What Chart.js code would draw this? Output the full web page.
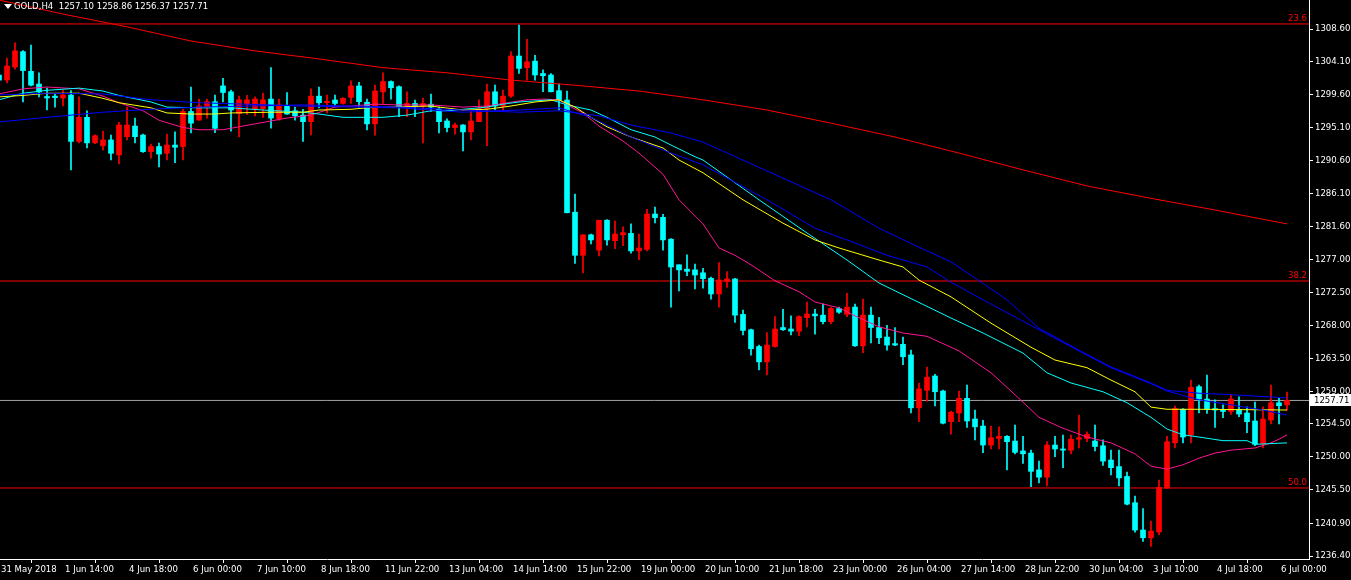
<!DOCTYPE html>
<html>
<head>
<meta charset="utf-8">
<title>GOLD,H4</title>
<script src="https://cdn.jsdelivr.net/npm/chart.js@4.4.1/dist/chart.umd.min.js"></script>
<style>
  html, body { margin: 0; padding: 0; background: #000; overflow: hidden; }
  canvas { display: block; }
</style>
</head>
<body>
<canvas id="chart" width="1351" height="580"></canvas>
<script>
// candles, H4, oldest first
const opens = [
  1302.3, 1301.61, 1303.4, 1305.5, 1302.8, 1301.06, 1299.35, 1299.4, 1299.15, 1299.55,
  1293.2, 1296.5, 1293.0, 1292.6, 1293.4, 1291.34, 1293.85, 1295.3, 1294.07, 1291.8,
  1292.5, 1291.57, 1292.7, 1292.5, 1297.3, 1296.13, 1297.9, 1298.64, 1300.8, 1300.0,
  1297.0, 1298.3, 1297.6, 1297.7, 1299.0, 1296.3, 1298.05, 1297.4, 1296.8, 1295.9,
  1299.4, 1298.5, 1298.87, 1298.4, 1299.24, 1300.8, 1298.56, 1295.6, 1300.0, 1301.4,
  1300.7, 1298.05, 1298.4, 1298.05, 1298.3, 1297.6, 1296.0, 1295.1, 1295.45, 1294.5,
  1295.9, 1297.7, 1300.0, 1298.05, 1299.4, 1304.9, 1303.3, 1304.2, 1302.5, 1302.3,
  1300.15, 1298.87, 1283.5, 1277.6, 1280.4, 1278.3, 1282.4, 1279.6, 1280.4, 1280.6,
  1278.2, 1278.4, 1283.25, 1282.8, 1279.8, 1276.3, 1275.7, 1275.6, 1275.2, 1274.45,
  1272.3, 1274.0, 1274.35, 1269.5, 1267.4, 1265.1, 1263.0, 1265.1, 1267.7, 1267.5,
  1267.2, 1269.05, 1269.55, 1269.4, 1268.5, 1270.3, 1269.5, 1270.5, 1265.2, 1269.4,
  1267.7, 1266.4, 1265.5, 1265.4, 1263.95, 1256.7, 1259.1, 1261.06, 1259.0, 1254.8,
  1256.0, 1258.0, 1255.17, 1254.2, 1251.6, 1252.5, 1252.8, 1252.15, 1250.8, 1250.5,
  1248.2, 1247.2, 1251.6, 1251.06, 1250.9, 1252.4, 1252.5, 1252.15, 1251.5, 1249.55,
  1248.65, 1247.3, 1243.7, 1239.96, 1238.9, 1239.7, 1245.7, 1251.9, 1256.5, 1252.97,
  1259.6, 1257.9, 1256.6, 1256.5, 1256.2, 1256.5, 1256.0, 1254.9, 1251.75, 1255.03,
  1257.4, 1257.10
];
const highs = [
  1302.6, 1304.6, 1306.7, 1305.65, 1306.4, 1302.6, 1300.5, 1299.7, 1300.2, 1300.15,
  1299.3, 1297.4, 1294.1, 1294.6, 1294.07, 1295.8, 1297.9, 1296.4, 1294.2, 1292.84,
  1292.98, 1294.2, 1294.5, 1297.6, 1300.65, 1299.0, 1299.0, 1299.56, 1301.85, 1300.24,
  1299.4, 1299.5, 1299.3, 1299.8, 1303.3, 1299.0, 1299.9, 1297.9, 1297.6, 1300.4,
  1300.65, 1299.56, 1299.56, 1299.2, 1301.5, 1301.3, 1299.0, 1300.9, 1302.6, 1301.5,
  1300.8, 1300.0, 1298.87, 1299.15, 1299.7, 1297.9, 1296.3, 1295.7, 1295.5, 1297.3,
  1298.9, 1301.06, 1300.9, 1300.24, 1305.5, 1309.15, 1307.2, 1305.0, 1303.0, 1302.5,
  1301.06, 1300.1, 1286.0, 1280.4, 1280.5, 1282.4, 1282.5, 1282.3, 1281.5, 1281.9,
  1280.5, 1283.9, 1284.2, 1283.2, 1279.9, 1276.3, 1277.65, 1276.4, 1275.8, 1274.6,
  1276.6, 1275.35, 1274.45, 1270.1, 1267.5, 1265.3, 1267.0, 1269.2, 1270.2, 1269.3,
  1269.3, 1271.2, 1270.2, 1270.9, 1270.5, 1270.5, 1272.4, 1270.9, 1271.6, 1270.5,
  1269.1, 1268.0, 1267.7, 1266.4, 1264.6, 1260.1, 1262.3, 1261.3, 1259.14, 1256.26,
  1259.0, 1259.8, 1256.4, 1255.0, 1254.2, 1254.1, 1252.9, 1254.35, 1252.8, 1250.9,
  1249.4, 1252.06, 1252.8, 1252.97, 1252.97, 1255.7, 1253.4, 1254.35, 1252.3, 1250.9,
  1250.9, 1247.9, 1244.6, 1242.9, 1241.2, 1246.8, 1252.8, 1256.95, 1256.6, 1260.5,
  1259.8, 1261.2, 1257.8, 1257.1, 1258.5, 1258.2, 1256.85, 1257.5, 1256.85, 1259.8,
  1258.0, 1258.86
];
const lows = [
  1301.2, 1301.2, 1303.1, 1298.6, 1300.8, 1299.3, 1297.5, 1297.9, 1298.05, 1289.3,
  1293.0, 1292.3, 1292.9, 1292.0, 1290.65, 1290.1, 1293.4, 1292.98, 1291.7, 1290.9,
  1289.7, 1290.65, 1290.3, 1290.65, 1294.35, 1296.06, 1296.4, 1294.4, 1298.6, 1294.6,
  1293.8, 1296.9, 1296.7, 1296.5, 1295.0, 1296.1, 1296.9, 1296.1, 1293.2, 1294.1,
  1297.8, 1297.1, 1297.95, 1298.3, 1298.4, 1297.9, 1294.76, 1294.07, 1298.4, 1299.0,
  1296.6, 1296.6, 1296.6, 1293.0, 1297.3, 1294.35, 1294.5, 1294.2, 1291.9, 1293.4,
  1295.9, 1292.6, 1297.5, 1297.4, 1299.24, 1302.5, 1301.6, 1301.6, 1300.0, 1299.97,
  1297.5, 1283.4, 1276.5, 1275.2, 1279.15, 1277.5, 1279.0, 1278.5, 1278.9, 1277.9,
  1277.0, 1278.2, 1282.05, 1278.3, 1270.5, 1272.7, 1274.8, 1273.0, 1273.1, 1271.6,
  1270.5, 1273.2, 1268.4, 1266.7, 1263.9, 1261.9, 1261.2, 1265.0, 1267.3, 1266.7,
  1266.6, 1267.8, 1266.8, 1268.2, 1268.2, 1269.65, 1269.2, 1265.1, 1264.25, 1265.6,
  1265.5, 1264.6, 1265.2, 1262.6, 1256.0, 1254.8, 1257.6, 1256.95, 1254.5, 1253.1,
  1254.8, 1254.0, 1252.3, 1250.55, 1251.06, 1251.06, 1248.2, 1250.4, 1249.1, 1245.9,
  1246.4, 1246.0, 1250.0, 1248.5, 1250.4, 1251.2, 1252.06, 1250.8, 1248.8, 1247.5,
  1246.0, 1243.4, 1239.65, 1238.4, 1237.7, 1239.3, 1245.7, 1251.2, 1251.9, 1251.9,
  1256.0, 1255.95, 1254.0, 1255.35, 1255.8, 1255.5, 1253.3, 1251.5, 1251.2, 1254.5,
  1254.5, 1256.37
];
const closes = [
  1301.6, 1303.53, 1305.6, 1302.9, 1300.9, 1299.97, 1299.15, 1299.2, 1299.56, 1293.2,
  1296.5, 1293.0, 1293.98, 1293.4, 1291.57, 1295.45, 1295.45, 1293.85, 1291.8, 1292.5,
  1291.47, 1292.7, 1292.4, 1297.3, 1295.7, 1298.05, 1298.64, 1294.99, 1299.9, 1297.5,
  1298.9, 1298.9, 1299.0, 1298.9, 1296.4, 1298.2, 1296.95, 1296.7, 1295.9, 1299.4,
  1298.5, 1298.7, 1298.4, 1299.1, 1300.8, 1298.64, 1295.6, 1300.1, 1301.4, 1300.55,
  1297.95, 1298.4, 1298.05, 1298.4, 1297.9, 1295.9, 1295.1, 1295.45, 1294.5, 1296.0,
  1297.7, 1300.0, 1298.05, 1299.4, 1304.9, 1303.2, 1304.1, 1302.3, 1302.2, 1300.0,
  1298.87, 1283.43, 1277.6, 1280.4, 1279.7, 1282.4, 1279.7, 1280.5, 1280.7, 1278.2,
  1278.6, 1283.25, 1282.75, 1279.7, 1276.0, 1275.6, 1275.4, 1274.9, 1274.4, 1272.3,
  1274.2, 1274.35, 1269.4, 1267.3, 1264.8, 1263.0, 1265.3, 1267.5, 1267.4, 1267.2,
  1269.2, 1269.55, 1269.3, 1268.5, 1270.3, 1269.8, 1270.5, 1265.2, 1269.4, 1267.7,
  1266.3, 1265.3, 1265.3, 1263.7, 1256.7, 1259.3, 1260.9, 1258.9, 1254.6, 1256.1,
  1258.0, 1254.9, 1254.1, 1251.6, 1252.6, 1252.8, 1252.06, 1250.6, 1250.4, 1248.0,
  1247.2, 1251.6, 1251.06, 1250.9, 1252.4, 1252.6, 1253.07, 1251.4, 1249.4, 1248.5,
  1247.1, 1243.5, 1239.96, 1238.9, 1239.8, 1245.8, 1252.06, 1256.6, 1252.7, 1259.5,
  1257.9, 1256.5, 1256.4, 1256.2, 1257.9, 1255.85, 1254.8, 1251.7, 1255.17, 1257.4,
  1256.99, 1257.71
];

// time axis labels, one every 8 bars starting at bar 0
const timeLabels = [
  "31 May 2018", "1 Jun 14:00", "4 Jun 18:00", "6 Jun 00:00", "7 Jun 10:00",
  "8 Jun 18:00", "11 Jun 22:00", "13 Jun 04:00", "14 Jun 14:00", "15 Jun 22:00",
  "19 Jun 00:00", "20 Jun 10:00", "21 Jun 18:00", "23 Jun 00:00", "26 Jun 04:00",
  "27 Jun 14:00", "28 Jun 22:00", "30 Jun 04:00", "3 Jul 10:00", "4 Jul 18:00",
  "6 Jul 00:00"
];
const priceTicks = [
  1308.6, 1304.1, 1299.6, 1295.1, 1290.6, 1286.1, 1281.6, 1277.0, 1272.5,
  1268.0, 1263.5, 1259.0, 1254.5, 1250.0, 1245.5, 1240.9, 1236.4
];

// moving averages as [bar, price] points
const maRed = [
  [0, 1312.57], [8, 1310.65], [16, 1308.9], [24, 1306.95], [32, 1305.6], [40, 1304.5],
  [48, 1303.3], [56, 1302.6], [64, 1301.6], [72, 1300.9], [80, 1300.1], [88, 1298.9],
  [96, 1297.5], [104, 1295.7], [112, 1293.8], [120, 1291.6], [128, 1289.3], [136, 1287.1],
  [144, 1285.4], [152, 1283.8], [161, 1281.9]
];
const maBlueSlow = [
  [0, 1295.86], [6, 1296.5], [13, 1297.2], [19, 1297.6], [25, 1297.9], [38, 1298.2],
  [50, 1297.9], [58, 1297.5], [65, 1297.2], [70, 1297.4], [75, 1296.7], [79, 1295.45],
  [84, 1294.35], [88, 1293.1], [104, 1285.2], [110, 1281.3], [115, 1278.7], [119, 1276.7],
  [126, 1271.5], [130, 1267.6], [135, 1264.6], [139, 1262.3], [144, 1260.1], [146, 1259.1],
  [150, 1258.7], [154, 1258.5], [161, 1258.05]
];
const maBlueFast = [
  [0, 1299.56], [6, 1299.8], [13, 1299.7], [19, 1298.9], [25, 1298.5], [38, 1298.05],
  [50, 1297.8], [58, 1297.2], [65, 1297.5], [70, 1297.8], [74, 1296.5], [79, 1293.8],
  [84, 1291.6], [88, 1290.0], [96, 1285.2], [102, 1281.3], [106, 1279.7], [111, 1277.6],
  [116, 1276.0], [119, 1273.9], [123, 1271.5], [130, 1267.4], [135, 1264.5], [139, 1262.2],
  [144, 1260.0], [146, 1259.0], [150, 1257.8], [154, 1257.1], [158, 1256.4], [161, 1255.7]
];
const maYellow = [
  [0, 1299.3], [3, 1299.5], [6, 1299.8], [10, 1299.8], [13, 1299.1], [15, 1298.5],
  [19, 1297.8], [21, 1297.1], [24, 1296.95], [27, 1296.95], [29, 1297.1], [34, 1297.2],
  [38, 1297.2], [40, 1297.5], [44, 1297.6], [46, 1297.8], [49, 1297.9], [54, 1298.05],
  [55, 1297.9], [58, 1297.5], [61, 1297.6], [64, 1298.05], [67, 1298.6], [70, 1298.9],
  [72, 1297.9], [74, 1296.5], [76, 1295.2], [79, 1293.8], [83, 1292.3], [85, 1290.65],
  [88, 1288.9], [93, 1285.2], [98, 1282.0], [102, 1279.7], [105, 1278.6], [110, 1276.95],
  [113, 1276.0], [115, 1274.2], [119, 1271.9], [124, 1268.3], [129, 1265.0], [132, 1263.25],
  [136, 1262.2], [139, 1260.5], [142, 1258.9], [144, 1256.8], [146, 1256.5], [150, 1256.5],
  [161, 1256.4]
];
const maCyan = [
  [0, 1298.9], [3, 1299.8], [6, 1300.2], [10, 1300.5], [13, 1300.1], [15, 1299.5],
  [19, 1298.6], [21, 1297.9], [25, 1297.8], [29, 1297.8], [33, 1297.5], [38, 1297.2],
  [40, 1296.95], [43, 1296.5], [48, 1296.5], [51, 1296.8], [54, 1297.4], [56, 1297.4],
  [58, 1297.6], [61, 1297.9], [63, 1298.3], [65, 1298.6], [69, 1298.9], [71, 1298.2],
  [74, 1297.5], [76, 1296.5], [79, 1294.8], [82, 1293.8], [84, 1292.7], [87, 1291.1],
  [88, 1290.65], [95, 1285.2], [101, 1280.65], [106, 1276.95], [110, 1273.8], [113, 1272.2],
  [119, 1269.0], [123, 1266.95], [128, 1264.2], [131, 1261.5], [134, 1260.1], [138, 1258.9],
  [141, 1257.4], [144, 1255.4], [146, 1253.8], [148, 1253.0], [150, 1252.7], [153, 1252.2],
  [156, 1252.2], [157, 1251.7], [161, 1251.9]
];
const maPink = [
  [0, 1299.7], [3, 1300.4], [6, 1300.65], [10, 1300.4], [13, 1299.4], [15, 1298.5],
  [18, 1297.4], [20, 1296.1], [23, 1295.1], [25, 1294.8], [28, 1294.8], [30, 1295.2],
  [34, 1296.0], [36, 1296.4], [39, 1296.8], [42, 1297.9], [44, 1298.05], [47, 1298.3],
  [50, 1298.2], [54, 1298.2], [58, 1297.9], [61, 1298.05], [63, 1298.4], [66, 1298.9],
  [68, 1299.0], [70, 1298.9], [71, 1298.2], [73, 1297.1], [75, 1295.3], [78, 1293.25],
  [80, 1291.6], [83, 1288.7], [85, 1285.2], [88, 1281.9], [90, 1278.6], [92, 1277.6],
  [94, 1276.3], [97, 1274.1], [100, 1272.6], [102, 1271.2], [105, 1270.4], [107, 1269.3],
  [110, 1267.8], [113, 1266.95], [116, 1266.5], [120, 1264.5], [124, 1261.5], [127, 1258.5],
  [130, 1255.4], [133, 1253.9], [136, 1252.7], [139, 1251.9], [142, 1250.4], [144, 1248.7],
  [146, 1248.3], [148, 1248.9], [150, 1249.8], [152, 1250.5], [154, 1250.9], [157, 1251.2],
  [159, 1251.9], [160, 1252.4], [161, 1253.0]
];

// fibonacci levels and last price
const fibLevels = ["23.6", "38.2", "50.0"];
const fibPrices = [1309.29, 1274.08, 1245.72];
const lastPrice = 1257.71;
const header = "GOLD,H4  1257.10 1258.86 1256.37 1257.71";

const UP = "#ff0000";
const DOWN = "#00ffff";
const FONT = '"DejaVu Sans Condensed", "Liberation Sans Narrow", "Liberation Sans", sans-serif';

const bars = opens.map((o, i) => i);
const colorOf = (i) => closes[i] >= opens[i] ? UP : DOWN;
const asPoints = (arr) => arr.map(p => ({ x: p[0], y: p[1] }));
const hline = (v) => [{ x: -2, y: v }, { x: 170, y: v }];

function maSet(arr, color) {
  return {
    type: "line", data: asPoints(arr), borderColor: color, borderWidth: 1,
    pointRadius: 0, tension: 0, order: 1
  };
}

const overlay = {
  id: "overlay",
  beforeDraw(chart) {
    const c = chart.ctx;
    c.save();
    c.fillStyle = "#000";
    c.fillRect(0, 0, chart.width, chart.height);
    c.restore();
  },
  afterDraw(chart) {
    const c = chart.ctx;
    const y = chart.scales.y;
    const area = chart.chartArea;
    c.save();
    // fibo level names
    c.font = "9.5px " + FONT;
    c.fillStyle = "#ff0000";
    c.textAlign = "right";
    c.textBaseline = "bottom";
    fibPrices.forEach((p, k) => {
      c.fillText(fibLevels[k], area.right - 2, y.getPixelForValue(p) - 1);
    });
    // last price tag
    const py = Math.round(y.getPixelForValue(lastPrice));
    c.fillStyle = "#ffffff";
    c.fillRect(area.right + 1, py - 6, chart.width - area.right - 1, 12);
    c.fillStyle = "#000000";
    c.textAlign = "left";
    c.textBaseline = "middle";
    c.fillText(lastPrice.toFixed(2), area.right + 5, py + 0.5);
    // header
    c.fillStyle = "#ffffff";
    c.beginPath();
    c.moveTo(4, 4); c.lineTo(12, 4); c.lineTo(8, 9); c.closePath();
    c.fill();
    c.font = "9.5px " + FONT;
    c.fillStyle = "#ffffff";
    c.textBaseline = "middle";
    c.fillText(header, 14, 7);
    c.restore();
  }
};

new Chart(document.getElementById("chart"), {
  data: {
    datasets: [
      {
        type: "bar", data: bars.map(i => ({ x: i, y: [lows[i], highs[i]] })),
        backgroundColor: bars.map(colorOf), barThickness: 1, grouped: false, order: 2
      },
      {
        type: "bar", data: bars.map(i => ({ x: i, y: [opens[i], closes[i]] })),
        backgroundColor: bars.map(colorOf), barThickness: 5, minBarLength: 1, grouped: false, order: 2
      },
      maSet(maRed, "#ff0000"),
      maSet(maBlueSlow, "#0000ff"),
      maSet(maBlueFast, "#0000ff"),
      maSet(maYellow, "#ffff00"),
      maSet(maCyan, "#00ffff"),
      maSet(maPink, "#ff1493"),
      ...fibPrices.map(p => ({
        type: "line", data: hline(p), borderColor: "#ff0000", borderWidth: 1,
        pointRadius: 0, order: 5
      })),
      {
        type: "line", data: hline(lastPrice), borderColor: "#a0a0a0", borderWidth: 1,
        pointRadius: 0, order: 5
      }
    ]
  },
  options: {
    responsive: false,
    animation: false,
    devicePixelRatio: 1,
    layout: { padding: 0, autoPadding: false },
    plugins: { legend: { display: false }, tooltip: { enabled: false } },
    scales: {
      x: {
        type: "linear", position: "bottom", min: 0.125, max: 163.75, offset: false,
        afterFit: (s) => { s.height = 21; s.paddingLeft = 0; s.paddingRight = 0; },
        afterBuildTicks: (s) => { s.ticks = timeLabels.map((t, k) => ({ value: k * 8 })); },
        grid: { display: true, drawOnChartArea: false, drawTicks: true, tickLength: 4, color: "#ffffff" },
        border: { display: true, color: "#ffffff" },
        ticks: {
          color: "#ffffff", font: { family: FONT, size: 9.5 }, autoSkip: false,
          maxRotation: 0, align: "start", padding: 1, labelOffset: 2,
          callback: (v, k) => timeLabels[k]
        }
      },
      y: {
        type: "linear", position: "right", min: 1235.99, max: 1312.573,
        afterFit: (s) => { s.width = 42; s.paddingTop = 0; s.paddingBottom = 0; },
        afterBuildTicks: (s) => { s.ticks = priceTicks.map(v => ({ value: v })); },
        grid: { display: true, drawOnChartArea: false, drawTicks: true, tickLength: 4, color: "#ffffff" },
        border: { display: true, color: "#ffffff" },
        ticks: {
          color: "#ffffff", font: { family: FONT, size: 9.5 }, padding: 2,
          callback: (v) => v.toFixed(2)
        }
      }
    }
  },
  plugins: [overlay]
});
</script>
</body>
</html>
